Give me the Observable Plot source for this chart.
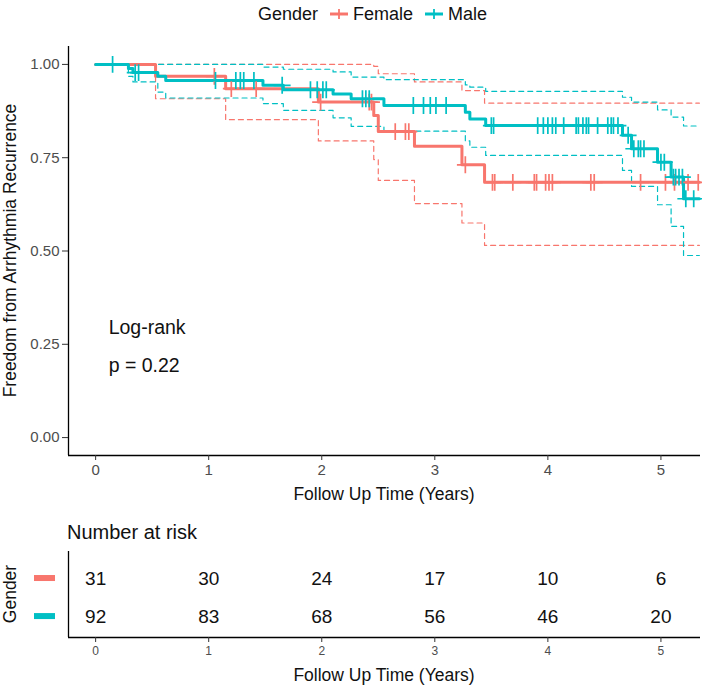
<!DOCTYPE html>
<html><head><meta charset="utf-8">
<script src="https://cdn.jsdelivr.net/npm/d3@7"></script>
<script src="https://cdn.jsdelivr.net/npm/@observablehq/plot@0.6"></script>
<style>
body{margin:0;background:#fff;font-family:"Liberation Sans",Arial,sans-serif;}
#wrap{position:relative;width:702px;height:686px;overflow:hidden;background:#fff;}
#legend{position:absolute;top:0;left:258px;height:28px;display:flex;align-items:center;font-size:18px;color:#111;white-space:nowrap;}
#legend .k{display:inline-block;margin:0 5px 0 12px;}
#main{position:absolute;top:30px;left:0;}
#table{position:absolute;top:515px;left:0;}
#risktitle{position:absolute;top:521px;left:67px;font-size:20px;color:#111;z-index:2;}
</style></head><body><div id="wrap"><div id="legend"></div><div id="main"></div><div id="table"></div><div id="risktitle">Number at risk</div></div>
<script>
// ---- data ----
const groups = ["Female", "Male"];
const groupColors = ["#F8766D", "#00BFC4"];
const legendTitle = "Gender";

const femaleTime  = [0, 0.53, 1.15, 1.97, 2.46, 2.50, 2.82, 3.24, 3.44, 5.34];
const femaleSurv  = [1, 0.968, 0.935, 0.899, 0.863, 0.820, 0.781, 0.731, 0.684, 0.684];
const femaleUpper = [1, 1, 1, 1, 0.995, 0.975, 0.953, 0.930, 0.896, 0.896];
const femaleLower = [1, 0.908, 0.852, 0.795, 0.745, 0.689, 0.627, 0.575, 0.515, 0.515];
const femaleCensor = [1.05, 1.20, 1.42, 1.99, 2.42, 2.44, 2.65, 2.74, 2.77, 3.27, 3.51, 3.53, 3.69, 3.88, 3.90, 3.98, 4.01, 4.04, 4.38, 4.41, 4.82, 5.04, 5.12, 5.24, 5.33];

const maleTime  = [0, 0.29, 0.33, 0.55, 0.62, 1.48, 1.66, 2.10, 2.26, 2.55, 3.27, 3.31, 3.45, 4.66, 4.74, 4.97, 5.09, 5.20, 5.34];
const maleSurv  = [1, 0.989, 0.978, 0.968, 0.957, 0.944, 0.932, 0.921, 0.908, 0.890, 0.872, 0.854, 0.836, 0.810, 0.774, 0.738, 0.698, 0.640, 0.640];
const maleUpper = [1, 1, 1, 1, 1, 0.993, 0.987, 0.980, 0.966, 0.959, 0.945, 0.939, 0.928, 0.912, 0.899, 0.878, 0.859, 0.835, 0.835];
const maleLower = [1, 0.968, 0.953, 0.926, 0.910, 0.895, 0.877, 0.857, 0.834, 0.821, 0.795, 0.778, 0.756, 0.716, 0.673, 0.624, 0.566, 0.488, 0.488];
const maleCensor = [0.15, 0.35, 0.38, 1.06, 1.24, 1.28, 1.31, 1.40, 1.65, 1.90, 1.96, 2.01, 2.04, 2.36, 2.39, 2.42, 2.81, 2.90, 2.96, 3.01, 3.10, 3.50, 3.52, 3.91, 3.96, 4.00, 4.04, 4.07, 4.14, 4.25, 4.27, 4.31, 4.34, 4.36, 4.44, 4.53, 4.56, 4.58, 4.62, 4.71, 4.76, 4.80, 4.82, 4.85, 5.00, 5.03, 5.11, 5.13, 5.16, 5.19, 5.22, 5.29];

const riskTimes  = [0, 1, 2, 3, 4, 5];
const femaleRisk = [31, 30, 24, 17, 10, 6];
const maleRisk   = [92, 83, 68, 56, 46, 20];

const xTicks = [0, 1, 2, 3, 4, 5];
const yTicks = [0, 0.25, 0.5, 0.75, 1];
const yTickLabels = ["0.00", "0.25", "0.50", "0.75", "1.00"];
const annotation = ["Log-rank", "p = 0.22"];
const xTitle = "Follow Up Time (Years)";
const yTitle = "Freedom from Arrhythmia Recurrence";

// ---- build tables ----
const font = "Liberation Sans, Arial, sans-serif";
const color = {domain: groups, range: groupColors};
function series(name, t, v) { return t.map((d, i) => ({group: name, t: d, v: v[i]})); }
function censorPts(name, t, s, c) {
  return c.map(ct => { let v = s[0]; t.forEach((tt, i) => { if (tt <= ct) v = s[i]; }); return {group: name, t: ct, v}; });
}
const survData = [...series("Female", femaleTime, femaleSurv), ...series("Male", maleTime, maleSurv)];
const ciData = [
  ...series("Female", femaleTime, femaleUpper).map(d => ({...d, k: "Fu"})),
  ...series("Female", femaleTime, femaleLower).map(d => ({...d, k: "Fl"})),
  ...series("Male", maleTime, maleUpper).map(d => ({...d, k: "Mu"})),
  ...series("Male", maleTime, maleLower).map(d => ({...d, k: "Ml"}))
];
const censorData = [...censorPts("Female", femaleTime, femaleSurv, femaleCensor), ...censorPts("Male", maleTime, maleSurv, maleCensor)];
const riskData = [
  ...riskTimes.map((t, i) => ({group: "Female", row: 2, t, n: femaleRisk[i]})),
  ...riskTimes.map((t, i) => ({group: "Male", row: 1, t, n: maleRisk[i]}))
];

const xDomain = [-0.24, 5.35];

// ---- main plot ----
const main = Plot.plot({
  width: 702, height: 480,
  marginLeft: 68, marginRight: 2, marginTop: 16, marginBottom: 55,
  style: {fontFamily: font, background: "white", overflow: "visible"},
  x: {domain: xDomain},
  y: {domain: [-0.048, 1.048]},
  color,
  marks: [
    Plot.ruleY([-0.048], {stroke: "#000", strokeWidth: 1.3}),
    Plot.ruleX([-0.24], {stroke: "#000", strokeWidth: 1.3}),
    Plot.axisX(xTicks, {tickSize: 5, tickPadding: 4, fontSize: 15, fill: "#4D4D4D", stroke: "#333", label: null}),
    Plot.axisY(yTicks, {tickSize: 6, tickPadding: 3, fontSize: 15, fill: "#4D4D4D", stroke: "#333", label: null, tickFormat: (d) => yTickLabels[yTicks.indexOf(d)]}),
    Plot.line(ciData, {x: "t", y: "v", z: "k", stroke: "group", curve: "step-after", strokeWidth: 1.2, strokeDasharray: "5,4"}),
    Plot.line(survData, {x: "t", y: "v", z: "group", stroke: "group", curve: "step-after", strokeWidth: 3}),
    Plot.dot(censorData, {x: "t", y: "v", stroke: "group", symbol: "plus", r: 5.5, strokeWidth: 1.7}),
    Plot.text([annotation[0]], {x: 0.115, y: 0.295, text: d => d, textAnchor: "start", fontSize: 19.5, fill: "#111"}),
    Plot.text([annotation[1]], {x: 0.115, y: 0.192, text: d => d, textAnchor: "start", fontSize: 19.5, fill: "#111"})
  ]
});
const ms = d3.select(main);
ms.append("text").attr("x", (68 + 700) / 2).attr("y", 464).attr("text-anchor", "middle").attr("dominant-baseline", "central")
  .attr("font-size", 17.5).attr("fill", "#111").text(xTitle);
ms.append("text").attr("transform", "translate(10," + (250.5 - 30) + ") rotate(-90)").attr("text-anchor", "middle").attr("dominant-baseline", "central")
  .attr("font-size", 17.5).attr("fill", "#111").text(yTitle);
document.getElementById("main").appendChild(main);

// ---- risk table ----
const table = Plot.plot({
  width: 702, height: 171,
  marginLeft: 68, marginRight: 2, marginTop: 36, marginBottom: 49,
  style: {fontFamily: font, background: "white", overflow: "visible"},
  x: {domain: xDomain},
  y: {domain: [0.45, 2.71], axis: null},
  color,
  marks: [
    Plot.ruleY([0.45], {stroke: "#000", strokeWidth: 1.3}),
    Plot.ruleX([-0.24], {stroke: "#000", strokeWidth: 1.3}),
    Plot.axisX(xTicks, {tickSize: 5, tickPadding: 4, fontSize: 12, fill: "#4D4D4D", stroke: "#333", label: null}),
    Plot.text(riskData, {x: "t", y: "row", text: "n", fontSize: 19, fill: "#111"})
  ]
});
const ts = d3.select(table);
const ty = table.scale("y");
[{row: 2, c: groupColors[0]}, {row: 1, c: groupColors[1]}].forEach(r => {
  ts.append("rect").attr("x", 34).attr("width", 21).attr("y", ty.apply(r.row) - 3).attr("height", 6).attr("fill", r.c);
});
ts.append("text").attr("x", (68 + 700) / 2).attr("y", 675 - 515).attr("text-anchor", "middle").attr("dominant-baseline", "central")
  .attr("font-size", 17.5).attr("fill", "#111").text(xTitle);
ts.append("text").attr("transform", "translate(10," + (594 - 515) + ") rotate(-90)").attr("text-anchor", "middle").attr("dominant-baseline", "central")
  .attr("font-size", 17.5).attr("fill", "#111").text(legendTitle);
document.getElementById("table").appendChild(table);

// ---- legend ----
const lg = document.getElementById("legend");
const t0 = document.createElement("span"); t0.textContent = legendTitle; lg.appendChild(t0);
groups.forEach((g, i) => {
  const k = d3.create("svg").attr("class", "k").attr("width", 18).attr("height", 14);
  k.append("line").attr("x1", 0).attr("x2", 18).attr("y1", 7).attr("y2", 7).attr("stroke", groupColors[i]).attr("stroke-width", 3);
  k.append("line").attr("x1", 9).attr("x2", 9).attr("y1", 2).attr("y2", 12).attr("stroke", groupColors[i]).attr("stroke-width", 1.8);
  lg.appendChild(k.node());
  const s = document.createElement("span"); s.textContent = g; lg.appendChild(s);
});
</script></body></html>
